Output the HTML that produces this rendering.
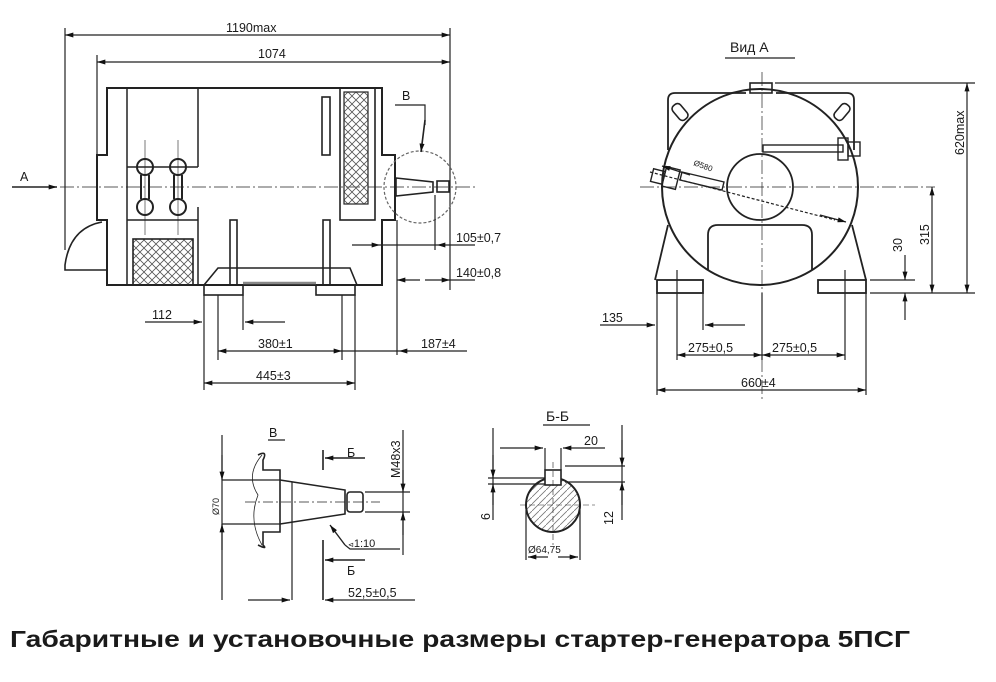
<!DOCTYPE html>
<html><head><meta charset="utf-8"><style>
html,body{margin:0;padding:0;background:#fff;}
svg{display:block;}
text{font-family:"Liberation Sans",sans-serif;fill:#1a1a1a;}
</style></head><body>
<svg width="996" height="682" viewBox="0 0 996 682" xmlns="http://www.w3.org/2000/svg">
<defs>
<marker id="a" viewBox="0 0 10 6" refX="10" refY="3" markerWidth="13" markerHeight="5" orient="auto-start-reverse" markerUnits="userSpaceOnUse"><path d="M0,0L10,3L0,6z" fill="#111"/></marker>
<pattern id="h" width="8" height="8" patternUnits="userSpaceOnUse"><path d="M0,0L8,8M8,0L0,8" stroke="#555" stroke-width="0.8"/></pattern>
<pattern id="d" width="7" height="7" patternUnits="userSpaceOnUse"><path d="M0,7L7,0" stroke="#777" stroke-width="0.8"/></pattern>
</defs>
<g stroke="#222" stroke-width="1.2" fill="none">
<line x1="65" y1="35" x2="450" y2="35" marker-start="url(#a)" marker-end="url(#a)"/>
<line x1="97" y1="62" x2="450" y2="62" marker-start="url(#a)" marker-end="url(#a)"/>
<line x1="65" y1="28" x2="65" y2="250"/>
<line x1="97" y1="55" x2="97" y2="155"/>
<line x1="450" y1="28" x2="450" y2="290"/>
<line x1="60" y1="187" x2="475" y2="187" stroke-dasharray="14,3,2,3" stroke-width="0.8"/>
<line x1="12" y1="187" x2="57" y2="187" marker-end="url(#a)" stroke-width="1.6"/>
<path d="M107,88H382V155H395V220H382V285H107V220H97V155H107Z" stroke-width="2"/>
<path d="M102,222Q70,228 65,265V270H107" stroke-width="1.6"/>
<path d="M127,88V285M198,88V167M127,167H198M127,207V220H198V207M198,220V285" stroke-width="1.5"/>
<rect x="133" y="239" width="60" height="46" fill="url(#h)" stroke-width="1.6"/>
<rect x="340" y="88" width="35" height="132" stroke-width="1.6"/>
<rect x="344" y="92" width="24" height="112" fill="url(#h)"/>
<rect x="322" y="97" width="8" height="58" stroke-width="1.6"/>
<g stroke-width="2">
<circle cx="145" cy="167" r="8"/><circle cx="178" cy="167" r="8"/>
<circle cx="145" cy="207" r="8"/><circle cx="178" cy="207" r="8"/>
<path d="M141,175V199M149,175V199M174,175V199M182,175V199"/>
</g>
<path d="M145,140V235M178,140V235" stroke-width="0.6"/>
<rect x="230" y="220" width="7" height="65" stroke-width="1.6"/>
<rect x="323" y="220" width="7" height="65" stroke-width="1.6"/>
<path d="M204,285L218,268H350L357,285" stroke-width="1.6"/>
<rect x="204" y="285" width="39" height="10" stroke-width="1.6"/>
<rect x="316" y="285" width="39" height="10" stroke-width="1.6"/>
<line x1="243" y1="283" x2="316" y2="283" stroke-width="2.5" stroke="#888"/>
<circle cx="420" cy="187" r="36" stroke-dasharray="3,2" stroke="#666"/>
<path d="M396,178L433,182V192L396,196Z" stroke-width="1.6"/>
<rect x="437" y="181" width="12" height="11" stroke-width="1.6"/>
<path d="M395,105H425V125" />
<line x1="425" y1="120" x2="421" y2="152" marker-end="url(#a)" stroke-width="1.6"/>
<path d="M397,220V355M435,195V250"/>
<line x1="352" y1="245" x2="380" y2="245" marker-end="url(#a)"/>
<line x1="475" y1="245" x2="437" y2="245" marker-end="url(#a)"/>
<line x1="380" y1="245" x2="437" y2="245"/>
<line x1="420" y1="280" x2="397" y2="280" marker-end="url(#a)"/>
<line x1="425" y1="280" x2="450" y2="280" marker-end="url(#a)"/>
<line x1="475" y1="280" x2="450" y2="280"/>
<path d="M204,295V390M218,295V360M243,295V330M342,295V360M355,295V390"/>
<line x1="145" y1="322" x2="202" y2="322" marker-end="url(#a)"/>
<line x1="285" y1="322" x2="245" y2="322" marker-end="url(#a)"/>
<line x1="218" y1="351" x2="342" y2="351" marker-start="url(#a)" marker-end="url(#a)"/>
<line x1="467" y1="351" x2="399" y2="351" marker-end="url(#a)"/>
<line x1="342" y1="351" x2="399" y2="351"/>
<line x1="204" y1="383" x2="355" y2="383" marker-start="url(#a)" marker-end="url(#a)"/>

<line x1="725" y1="58" x2="795" y2="58"/>
<line x1="762" y1="72" x2="762" y2="400" stroke-dasharray="14,3,2,3" stroke-width="0.7"/>
<line x1="640" y1="187" x2="935" y2="187" stroke-dasharray="14,3,2,3" stroke-width="0.7"/>
<path d="M668,150V100Q668,93 675,93H746M776,93H847Q854,93 854,100V150" stroke-width="1.8"/>
<rect x="750" y="83" width="22" height="10" stroke-width="1.6"/>
<rect x="675" y="103" width="10" height="18" rx="4" transform="rotate(-40 680 112)" stroke-width="1.6"/>
<rect x="837" y="103" width="10" height="18" rx="4" transform="rotate(40 842 112)" stroke-width="1.6"/>
<circle cx="760" cy="187" r="98" stroke-width="2"/>
<circle cx="760" cy="187" r="33" stroke-width="1.8"/>
<path d="M668,225L655,280M852,225L866,280" stroke-width="1.8"/>
<rect x="657" y="280" width="46" height="13" stroke-width="1.8"/>
<rect x="818" y="280" width="48" height="13" stroke-width="1.8"/>
<path d="M708,270V235Q708,225 718,225H802Q812,225 812,235V270" stroke-width="1.8"/>
<rect x="763" y="145" width="80" height="7" stroke-width="1.4"/>
<rect x="838" y="138" width="10" height="22" stroke-width="1.4"/>
<rect x="848" y="142" width="12" height="14" stroke-width="1.4"/>
<path d="M682,172L724,182L722,190L680,180Z" stroke-width="1.4"/>
<rect x="664" y="168" width="14" height="20" transform="rotate(14 671 178)" stroke-width="1.4"/>
<rect x="652" y="170" width="12" height="13" transform="rotate(14 658 176)" stroke-width="1.4"/>
<line x1="650" y1="172" x2="835" y2="220" stroke-dasharray="3,2"/>
<line x1="690" y1="175" x2="662" y2="166" marker-end="url(#a)"/>
<line x1="820" y1="215" x2="846" y2="222" marker-end="url(#a)"/>
<path d="M775,83H975M870,293H975M870,280H915"/>
<line x1="967" y1="83" x2="967" y2="293" marker-start="url(#a)" marker-end="url(#a)"/>
<line x1="932" y1="187" x2="932" y2="293" marker-start="url(#a)" marker-end="url(#a)"/>
<line x1="905" y1="255" x2="905" y2="280" marker-end="url(#a)"/>
<line x1="905" y1="320" x2="905" y2="293" marker-end="url(#a)"/>
<path d="M657,293V395M677,270V360M703,293V330M762,293V360M845,270V360M866,293V395"/>
<line x1="600" y1="325" x2="655" y2="325" marker-end="url(#a)"/>
<line x1="745" y1="325" x2="705" y2="325" marker-end="url(#a)"/>
<line x1="677" y1="355" x2="762" y2="355" marker-start="url(#a)" marker-end="url(#a)"/>
<line x1="762" y1="355" x2="845" y2="355" marker-start="url(#a)" marker-end="url(#a)"/>
<line x1="657" y1="390" x2="866" y2="390" marker-start="url(#a)" marker-end="url(#a)"/>

<line x1="268" y1="440" x2="285" y2="440"/>
<path d="M258,455Q268,450 263,460V470H280V532H263V545Q268,550 258,545" stroke-width="1.6"/>
<path d="M262,455Q245,475 258,495Q248,520 262,545" stroke-width="0.8"/>
<path d="M280,480L345,490V514L280,524" stroke-width="1.6"/>
<line x1="292" y1="482" x2="292" y2="600"/>
<rect x="347" y="492" width="16" height="20" rx="3" stroke-width="1.6"/>
<line x1="245" y1="502" x2="380" y2="502" stroke-dasharray="10,3,2,3" stroke-width="0.7"/>
<path d="M222,480H280M222,524H280M222,435V600M365,492H410M365,512H410M403,430V555"/>
<line x1="222" y1="455" x2="222" y2="480" marker-end="url(#a)"/>
<line x1="222" y1="550" x2="222" y2="524" marker-end="url(#a)"/>
<line x1="403" y1="470" x2="403" y2="492" marker-end="url(#a)"/>
<line x1="403" y1="535" x2="403" y2="512" marker-end="url(#a)"/>
<path d="M323,450V470M323,540V600" stroke-width="1.6"/>
<line x1="365" y1="458" x2="325" y2="458" marker-end="url(#a)" stroke-width="1.6"/>
<line x1="365" y1="560" x2="325" y2="560" marker-end="url(#a)" stroke-width="1.6"/>
<line x1="248" y1="600" x2="290" y2="600" marker-end="url(#a)"/>
<line x1="415" y1="600" x2="325" y2="600" marker-end="url(#a)"/>
<path d="M345,545L330,525" stroke-width="1.4" marker-end="url(#a)"/>
<path d="M345,545L350,549H400"/>

<line x1="543" y1="425" x2="590" y2="425"/>
<circle cx="553" cy="505" r="27" fill="url(#d)" stroke-width="2"/>
<rect x="545" y="470" width="16" height="15" fill="#fff" stroke-width="1.6"/>
<path d="M520,505H595M553,462V545" stroke-dasharray="6,3" stroke-width="0.6"/>
<path d="M488,478H545M488,484H545M565,466H625M565,482H625M545,448V470M561,448V470M526,510V560M580,510V560M493,428V520M622,425V520"/>
<line x1="500" y1="448" x2="543" y2="448" marker-end="url(#a)"/>
<line x1="605" y1="448" x2="563" y2="448" marker-end="url(#a)"/>
<line x1="493" y1="455" x2="493" y2="478" marker-end="url(#a)"/>
<line x1="493" y1="505" x2="493" y2="484" marker-end="url(#a)"/>
<line x1="622" y1="440" x2="622" y2="466" marker-end="url(#a)"/>
<line x1="622" y1="505" x2="622" y2="482" marker-end="url(#a)"/>
<line x1="528" y1="557" x2="548" y2="557" marker-start="url(#a)"/>
<line x1="558" y1="557" x2="578" y2="557" marker-end="url(#a)"/>
</g>

<g font-size="12.5">
<text x="226" y="32">1190max</text>
<text x="258" y="58">1074</text>
<text x="20" y="181">A</text>
<text x="402" y="100">В</text>
<text x="456" y="242">105±0,7</text>
<text x="456" y="277">140±0,8</text>
<text x="152" y="319">112</text>
<text x="258" y="348">380±1</text>
<text x="421" y="348">187±4</text>
<text x="256" y="380">445±3</text>
<text x="730" y="52" font-size="14">Вид А</text>
<text x="602" y="322">135</text>
<text x="688" y="352">275±0,5</text>
<text x="772" y="352">275±0,5</text>
<text x="741" y="387">660±4</text>
<text x="693" y="165" font-size="8" transform="rotate(20 693 165)">Ø580</text>
<text x="0" y="0" transform="translate(964,155) rotate(-90)">620max</text>
<text x="0" y="0" transform="translate(929,245) rotate(-90)">315</text>
<text x="0" y="0" transform="translate(902,252) rotate(-90)">30</text>
<text x="269" y="437">В</text>
<text x="347" y="457">Б</text>
<text x="347" y="575">Б</text>
<text x="0" y="0" transform="translate(400,478) rotate(-90)">M48x3</text>
<text x="0" y="0" transform="translate(219,515) rotate(-90)" font-size="9">Ø70</text>
<text x="348" y="547" font-size="11"><tspan font-size="7">⊲</tspan>1:10</text>
<text x="348" y="597">52,5±0,5</text>
<text x="546" y="421" font-size="14">Б-Б</text>
<text x="584" y="445">20</text>
<text x="0" y="0" transform="translate(490,520) rotate(-90)">6</text>
<text x="0" y="0" transform="translate(613,525) rotate(-90)">12</text>
<text x="528" y="553" font-size="10">Ø64,75</text>
</g>
<text x="10" y="647" font-size="23" font-weight="bold" textLength="900" lengthAdjust="spacingAndGlyphs">Габаритные и установочные размеры стартер-генератора 5ПСГ</text>
</svg>
</body></html>
